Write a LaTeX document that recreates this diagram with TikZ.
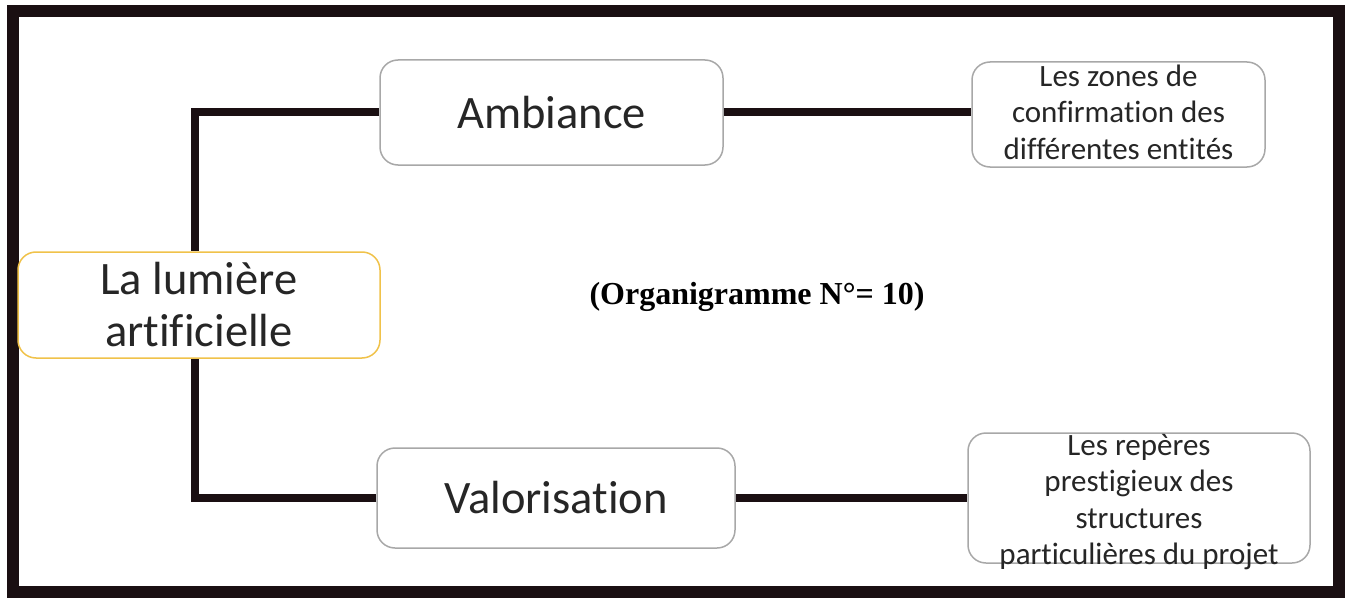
\documentclass[tikz,border=0pt]{standalone}
\usepackage{fontspec}
\setmainfont{Carlito}[Ligatures=NoCommon]
\newfontfamily\titlefont{Liberation Serif}
\definecolor{boxgray}{HTML}{A8A8A8}
\definecolor{boxgold}{HTML}{F0C24A}
\definecolor{inkline}{HTML}{1A0F12}
\tikzset{
  box/.style={draw=boxgray, line width=1.5pt, rounded corners=18pt, fill=white, inner sep=0pt, align=center, text=black!85},
  bigtext/.style={font=\fontsize{46.5}{52}\selectfont},
  smalltext/.style={font=\fontsize{31}{36.5}\selectfont},
  link/.style={draw=inkline, line width=8pt},
  frameline/.style={draw=inkline, line width=12pt}
}
\begin{document}
\begin{tikzpicture}[x=1pt, y=-1pt]
\useasboundingbox (0,0) rectangle (1346,599);
\draw[frameline] (13,11) rectangle (1339,592);
\node[box, bigtext, minimum width=343pt, minimum height=105pt] (amb) at (551.5,112.5) {Ambiance};
\node[box, bigtext, minimum width=358pt, minimum height=100pt] (val) at (556,498) {Valorisation};
\node[box, minimum width=293pt, minimum height=105pt] (tr) at (1118.5,114.5) {};
\node[smalltext, align=center, text=black!85, inner sep=0pt] (trtext) at (1118.5,112) {Les zones de\\confirmation des\\différentes entités};
\node[box, minimum width=342pt, minimum height=130pt] (br) at (1139,498) {};
\node[smalltext, align=center, text=black!85, inner sep=0pt] (brtext) at (1139,502) {Les repères\\prestigieux des\\structures\\particulières du projet};
\node[box, draw=boxgold, bigtext, minimum width=362pt, minimum height=106pt] (lum) at (199,305) {La lumière\\artificielle};
\node[font=\titlefont\bfseries\fontsize{32}{38}\selectfont, inner sep=0pt] (title) at (757,297) {(Organigramme N°= 10)};
\draw[link] (amb.west) -| ([xshift=-4pt]lum.north);
\draw[link] (val.west) -| ([xshift=-4pt]lum.south);
\draw[link] (amb.east) -- (amb.east -| tr.west);
\draw[link] (val.east) -- (val.east -| br.west);
\end{tikzpicture}
\end{document}
